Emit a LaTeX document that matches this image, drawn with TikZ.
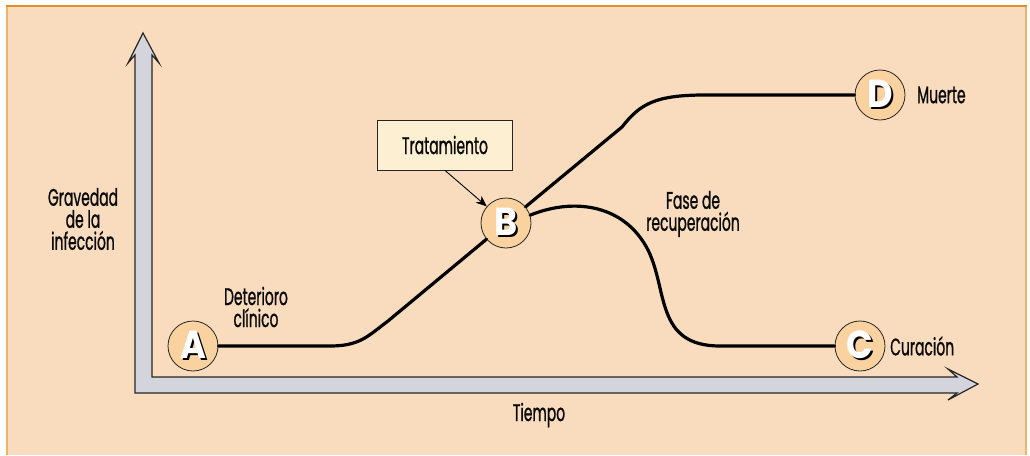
\documentclass[tikz,border=0pt]{standalone}
\usepackage{fontspec}
\setmainfont{Poppins}[FakeStretch=0.58, FakeBold=0.9]
\newfontfamily\letterfont{Poppins}[FakeStretch=0.9]
\usetikzlibrary{arrows.meta}
\definecolor{peach}{HTML}{F9DCBD}
\definecolor{frametop}{HTML}{E58E2A}
\definecolor{frameside}{HTML}{EDB56A}
\definecolor{axisgrey}{HTML}{D3D4DC}
\definecolor{stagefill}{HTML}{FAD2A0}
\definecolor{boxfill}{HTML}{FDEFD2}
\definecolor{inkdark}{HTML}{0A0A0A}
\newcommand{\stageletter}[1]{%
  \makebox[0pt][l]{\hspace{2pt}\raisebox{-2pt}{\color{black}#1}}{\color{white}#1}}
\tikzset{
  lbl/.style={font=\fontsize{24}{22}\selectfont, text=inkdark, align=center, inner sep=0pt},
  stage/.style={circle, minimum size=50pt, inner sep=0pt, fill=stagefill,
    draw=black!85, line width=0.8pt,
    font=\letterfont\bfseries\fontsize{39}{39}\selectfont},
  course/.style={line width=3.2pt, black, line cap=round},
  notebox/.style={rectangle, minimum width=135pt, minimum height=50pt,
    fill=boxfill, draw=black!85, line width=0.8pt,
    font=\fontsize{24}{22}\selectfont, text=inkdark},
  pointer/.style={line width=0.9pt, -{Stealth[length=11pt,width=9pt]}},
}
\begin{document}
\begin{tikzpicture}[x=1pt, y=-1pt]
\useasboundingbox (0,0) rectangle (1030,455);
% panel background and frame
\fill[white] (0,0) rectangle (1030,455);
\fill[peach] (6,5) rectangle (1027,455);
\draw[frameside, line width=1.6pt] (6.8,5) -- (6.8,455);
\draw[frameside, line width=1.6pt] (1026.2,5) -- (1026.2,455);
\draw[frametop, line width=1.6pt] (6,5.8) -- (1027,5.8);

% axes drawn as one L-shaped block arrow
\draw[fill=axisgrey, draw=black!85, line width=1.2pt, line join=miter]
  (143,33) -- (159,63) -- (152,55) -- (152,377) -- (957,377) -- (948,369)
  -- (978,384) -- (948,400) -- (957,393) -- (135,393) -- (135,55)
  -- (128,63) -- cycle;

% stages
\node[stage] (A) at (193,346) {\stageletter{A}};
\node[stage] (B) at (506,223) {\stageletter{B}};
\node[stage] (C) at (860,346) {\stageletter{C}};
\node[stage] (D) at (880,95) {\stageletter{D}};

% course of the infection
\draw[course] (A.east) -- (330,346)
  .. controls (360,346) and (368,336) .. (388,321) -- (B);
\draw[course] (B) -- (622,127)
  .. controls (640,104) and (655,95) .. (705,95) -- (D.west);
\draw[course] (B.18)
  .. controls (575,197) and (625,205) .. (648,250)
  .. controls (668,290) and (655,346) .. (720,346) -- (C.west);

% treatment note
\node[notebox] (T) at (445,145) {Tratamiento};
\draw[pointer] (T.south) -- (B);

% labels
\node[lbl] (yl) at (83,219) {Gravedad\\de la\\infección};
\node[lbl] (xl) at (539,415) {Tiempo};
\node[lbl] (det) at (256,307) {Deterioro\\clínico};
\node[lbl] (fase) at (693,214) {Fase de\\recuperación};
\node[lbl, anchor=west] (muerte) at (917,95) {Muerte};
\node[lbl, anchor=west] (cura) at (890,346) {Curación};
\end{tikzpicture}
\end{document}
